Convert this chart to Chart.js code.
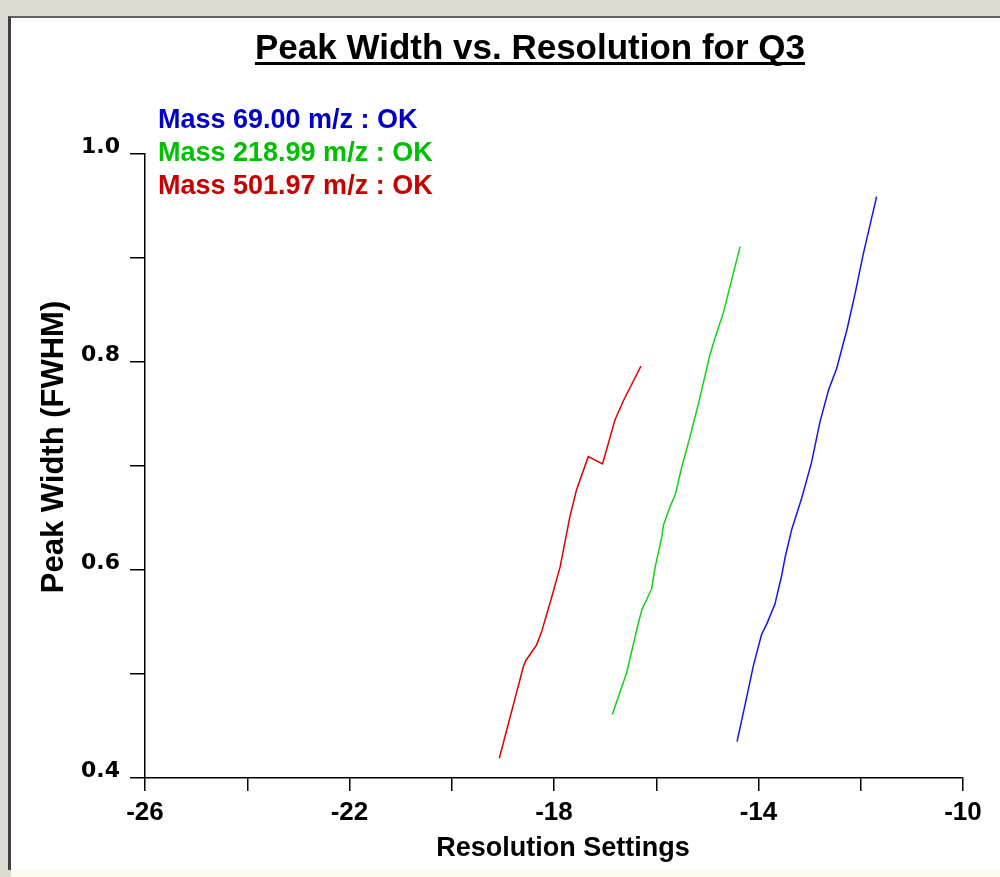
<!DOCTYPE html>
<html lang="en">

<head>
    <meta charset="UTF-8">
    <title>Peak Width vs. Resolution for Q3</title>
    <script src="https://cdn.jsdelivr.net/npm/chart.js"></script>
    <style>
        body {
            margin: 0;
            padding: 0;
            width: 1000px;
            height: 877px;
            background: #dedbd3;
            overflow: hidden;
            position: relative;
        }

        .panel {
            position: absolute;
            left: 8px;
            top: 16px;
            width: 990px;
            height: 852px;
            background: #fff;
            border-left: 3px solid #404040;
            border-top: 2px solid #606060;
        }

        .footer {
            position: absolute;
            left: 11px;
            top: 870px;
            width: 989px;
            height: 7px;
            background: #fbfbee;
        }

        #chart {
            position: absolute;
            left: 0;
            top: 0;
        }
    </style>
</head>

<body>
    <div class="panel"></div>
    <div class="footer"></div>
    <canvas id="chart" width="1000" height="877"></canvas>

    <script>
        // resolution setting (x) and peak width (y) for each mass
        const blueX = [-14.42, -14.26, -14.10, -13.94, -13.84, -13.68, -13.55, -13.48, -13.35, -13.15, -12.96, -12.80, -12.63, -12.47, -12.27, -12.11, -11.95, -11.69];
        const blueY = [0.435, 0.471, 0.508, 0.538, 0.548, 0.567, 0.594, 0.612, 0.639, 0.670, 0.704, 0.742, 0.773, 0.794, 0.831, 0.866, 0.904, 0.959];

        const greenX = [-16.86, -16.58, -16.35, -16.28, -16.09, -16.02, -15.89, -15.86, -15.73, -15.63, -15.50, -15.34, -15.14, -14.95, -14.85, -14.69, -14.36];
        const greenY = [0.461, 0.501, 0.549, 0.562, 0.582, 0.603, 0.632, 0.643, 0.661, 0.672, 0.699, 0.728, 0.767, 0.807, 0.823, 0.847, 0.911];

        const redX = [-19.07, -18.60, -18.55, -18.34, -18.24, -18.05, -17.88, -17.69, -17.56, -17.33, -17.05, -16.81, -16.64, -16.30];
        const redY = [0.419, 0.507, 0.513, 0.528, 0.541, 0.573, 0.603, 0.651, 0.677, 0.709, 0.702, 0.744, 0.763, 0.796];

        const legendLabels = ['Mass 69.00 m/z : OK', 'Mass 218.99 m/z : OK', 'Mass 501.97 m/z : OK'];
        const legendColors = ['#0000c8', '#00c000', '#c80000'];
        const lineColors = ['#1414f0', '#14d214', '#e00000'];

        const xLabels = [-26, -22, -18, -14, -10];
        const yLabels = [0.4, 0.6, 0.8, 1.0];

        const toPoints = (xs, ys) => xs.map((x, i) => ({ x: x, y: ys[i] }));
        const arial = '"Liberation Sans", Arial, sans-serif';

        // title (underlined), mass list and the two axis titles
        const headerPlugin = {
            id: 'header',
            afterDraw(chart) {
                const ctx = chart.ctx;
                ctx.save();
                ctx.fillStyle = '#000';
                ctx.font = 'bold 35px ' + arial;
                ctx.textAlign = 'center';
                ctx.textBaseline = 'alphabetic';
                const title = 'Peak Width vs. Resolution for Q3';
                ctx.fillText(title, 530, 59);
                const w = ctx.measureText(title).width;
                ctx.fillRect(530 - w / 2, 62, w, 3);

                // x axis title
                ctx.font = 'bold 27px ' + arial;
                ctx.fillText('Resolution Settings', 563, 856);

                // y axis title
                ctx.save();
                ctx.translate(63, 447);
                ctx.rotate(-Math.PI / 2);
                ctx.font = 'bold 31px ' + arial;
                ctx.fillText('Peak Width (FWHM)', 0, 0);
                ctx.restore();

                ctx.textAlign = 'left';
                ctx.font = 'bold 27px ' + arial;
                legendLabels.forEach((t, i) => {
                    ctx.fillStyle = legendColors[i];
                    ctx.fillText(t, 158, 128 + i * 33);
                });
                ctx.restore();
            }
        };

        new Chart(document.getElementById('chart'), {
            type: 'line',
            data: {
                datasets: [
                    { data: toPoints(blueX, blueY), borderColor: lineColors[0] },
                    { data: toPoints(greenX, greenY), borderColor: lineColors[1] },
                    { data: toPoints(redX, redY), borderColor: lineColors[2] }
                ]
            },
            options: {
                responsive: false,
                animation: false,
                parsing: false,
                elements: {
                    line: { borderWidth: 1.5, tension: 0 },
                    point: { radius: 0 }
                },
                layout: {
                    padding: { left: 0, top: 154, right: 37, bottom: 10 }
                },
                plugins: {
                    legend: { display: false },
                    tooltip: { enabled: false }
                },
                scales: {
                    x: {
                        type: 'linear',
                        min: -26,
                        max: -10,
                        afterFit: axis => { axis.height = 89; },
                        ticks: {
                            stepSize: 2,
                            autoSkip: false,
                            maxRotation: 0,
                            padding: 6,
                            color: '#000',
                            font: { family: arial, size: 26, weight: 'bold' },
                            callback: v => xLabels.includes(v) ? String(v) : ''
                        },
                        grid: { drawOnChartArea: false, tickLength: 13, color: '#000', lineWidth: 1.5 },
                        border: { color: '#000', width: 1.5 }
                    },
                    y: {
                        min: 0.4,
                        max: 1.0,
                        afterFit: axis => { axis.width = 145; },
                        ticks: {
                            stepSize: 0.1,
                            autoSkip: false,
                            padding: 10,
                            labelOffset: -7,
                            color: '#000',
                            font: { family: '"DejaVu Sans", Verdana, sans-serif', size: 22, weight: 'bold' },
                            callback: v => {
                                const r = Math.round(v * 10) / 10;
                                return yLabels.includes(r) ? r.toFixed(1) : '';
                            }
                        },
                        grid: { drawOnChartArea: false, tickLength: 15, color: '#000', lineWidth: 1.5 },
                        border: { color: '#000', width: 1.5 }
                    }
                }
            },
            plugins: [headerPlugin]
        });
    </script>
</body>

</html>
